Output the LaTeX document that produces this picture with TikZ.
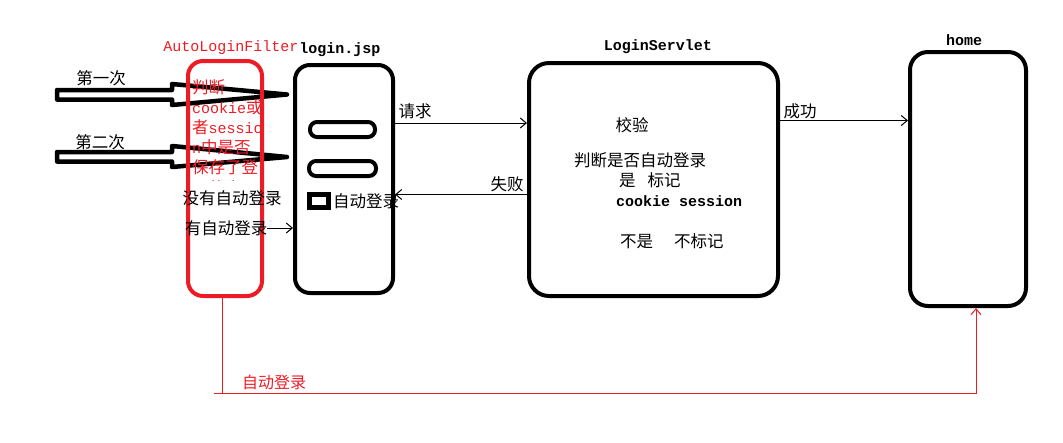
\documentclass[tikz,border=0pt]{standalone}
\usepackage{fontspec}
\setmainfont{Liberation Mono}
\newfontfamily\cjk{Noto Sans CJK SC}
\usetikzlibrary{arrows.meta}
\definecolor{pred}{HTML}{ED1C24}
\begin{document}
\begin{tikzpicture}[x=1pt,y=-1pt,
  box/.style={draw, line width=4pt, inner sep=0pt},
  lbl/.style={inner sep=0pt, font=\bfseries\fontsize{15}{18}\selectfont},
  rlbl/.style={inner sep=0pt, text=pred, font=\fontsize{15}{18}\selectfont},
  zh/.style={inner sep=0pt, font=\cjk\fontsize{16.5}{20}\selectfont},
  rzh/.style={zh, text=pred},
  arr/.style={line width=1pt, -{Straight Barb[length=6pt,width=10pt]}},
  blockarrow/.style={draw, line width=4.5pt, line join=round, fill=white}]
\useasboundingbox (0,0) rectangle (1063,442);

% block arrows
\draw[blockarrow] (57,90) -- (172,90) -- (172,84) -- (287,94.5) -- (172,105) -- (172,99.5) -- (57,99.5) -- cycle;
\draw[blockarrow] (57,152) -- (172,152) -- (172,146) -- (287,157) -- (172,167) -- (172,161.5) -- (57,161.5) -- cycle;
\node[zh] (t1) at (101,78) {第一次};
\node[zh] (t2) at (100,142) {第二次};

% boxes
\node[box, draw=pred, rounded corners=15pt, minimum width=74pt, minimum height=235pt] (rb) at (225,178.5) {};
\node[box, rounded corners=15pt, minimum width=98pt, minimum height=228pt] (lj) at (344,179) {};
\node[box, rounded corners=20pt, minimum width=249pt, minimum height=233pt] (ls) at (653.5,179.5) {};
\node[box, rounded corners=18pt, minimum width=116pt, minimum height=254pt] (hm) at (968,179) {};
\node[box, rounded corners=7pt, minimum width=65pt, minimum height=15pt] (f1) at (342.5,129.5) {};
\node[box, rounded corners=7pt, minimum width=67pt, minimum height=15pt] (f2) at (342.5,168.5) {};
\node[box, line width=4.5pt, minimum width=19pt, minimum height=13pt] (cb) at (319,201) {};

% titles
\node[rlbl] (trb) at (231,48) {AutoLoginFilter};
\node[lbl] (tlj) at (340,50) {login.jsp};
\node[lbl] (tls) at (658,47) {LoginServlet};
\node[lbl] (thm) at (964,40) {home};

% red text inside filter box (clipped)
\begin{scope}
\clip (188,60) rectangle (262,180);
\node[rzh, anchor=west] (r1) at (192,87) {判断};
\node[rzh, anchor=west] (r2) at (192,107) {{\rmfamily\fontsize{15}{18}\selectfont cookie}或};
\node[rzh, anchor=west] (r3) at (192,127) {者{\rmfamily\fontsize{15}{18}\selectfont sessio}};
\node[rzh, anchor=west] (r4) at (192,147) {{\rmfamily\fontsize{15}{18}\selectfont n}中是否};
\node[rzh, anchor=west] (r5) at (192,167) {保存了登};
\node[rzh, anchor=west] (r6) at (192,188) {录状态};
\end{scope}

\node[zh] (no) at (232,198) {没有自动登录};
\node[zh] (yes) at (226,228) {有自动登录};
\node[zh, anchor=west] (cbt) at (333,201) {自动登录};

% servlet text
\node[zh] (s1) at (632,125) {校验};
\node[zh] (s2) at (640,160) {判断是否自动登录};
\node[zh, anchor=west] (s3) at (619,180) {是\hspace{12pt}标记};
\node[lbl, anchor=west] (s4) at (616,201) {cookie session};
\node[zh, anchor=west] (s5) at (620,241) {不是\hspace{21pt}不标记};

% connectors
\draw[arr] (yes.east) -- (lj.west |- yes.east);
\draw[arr] ([yshift=56pt]lj.east) -- ([yshift=56pt]lj.east -| ls.west);
\node[zh] (req) at (415,111) {请求};
\draw[arr] ([yshift=-15pt]ls.west) -- ([yshift=-15pt]ls.west -| lj.east);
\node[zh] (fail) at (507,184) {失败};
\draw[arr] ([yshift=59pt]ls.east) -- ([yshift=59pt]ls.east -| hm.west);
\node[zh] (ok) at (800,111) {成功};

% red auto login path
\coordinate (c0) at (214,393);
\coordinate (c1) at (222,393);
\coordinate (c2) at (976,393);
\draw[pred, line width=1pt] (c0) -- (c1);
\draw[pred, arr] (rb.south -| c1) -- (c1) -- (c2) -- (hm.south -| c2);
\node[rzh, anchor=west, font=\cjk\fontsize{16}{20}\selectfont] (auto) at (242,382) {自动登录};
\end{tikzpicture}
\end{document}
